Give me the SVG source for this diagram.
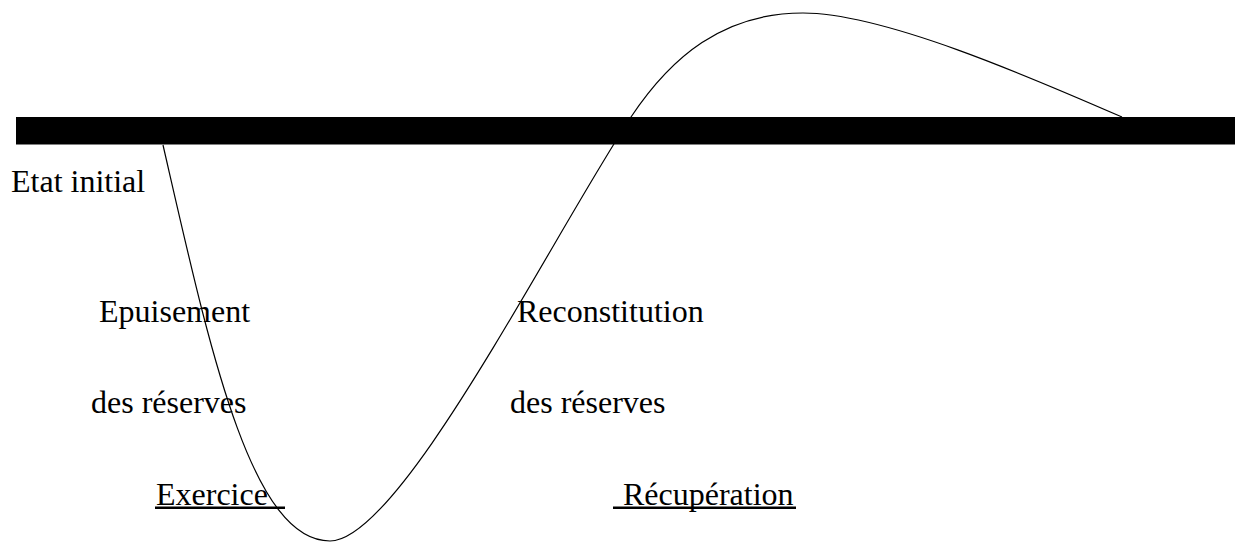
<svg xmlns="http://www.w3.org/2000/svg" width="1235" height="543" viewBox="0 0 1235 543">
  <style>
    .lbl { font-family: "Liberation Serif", "Times New Roman", serif; font-size: 32px; fill: #000; }
    .curve { fill: none; stroke: #000; stroke-width: 1.2; }
  </style>
  <rect x="0" y="0" width="1235" height="543" fill="#fff"/>
  <g id="curve">
    <path class="curve" d="M163,145 C209,345 250,541 330,541 C400,541 550,240 631,117 C671,57 723,13 803,13 C883,13 1029,76.5 1122,117"/>
  </g>
  <g id="baseline">
    <rect x="16" y="117" width="1219" height="27.5" fill="#000"/>
  </g>
  <g id="labels">
    <text class="lbl" x="11" y="192">Etat initial</text>
    <text class="lbl" x="99" y="322">Epuisement</text>
    <text class="lbl" x="91" y="413">des réserves</text>
    <text class="lbl" x="517" y="322">Reconstitution</text>
    <text class="lbl" x="510" y="413">des réserves</text>
    <text class="lbl" x="156" y="505">Exercice</text>
    <rect x="155" y="506.5" width="130" height="2.5" fill="#000"/>
    <text class="lbl" x="623" y="505">Récupération</text>
    <rect x="613" y="506.5" width="183" height="2.5" fill="#000"/>
  </g>
</svg>
